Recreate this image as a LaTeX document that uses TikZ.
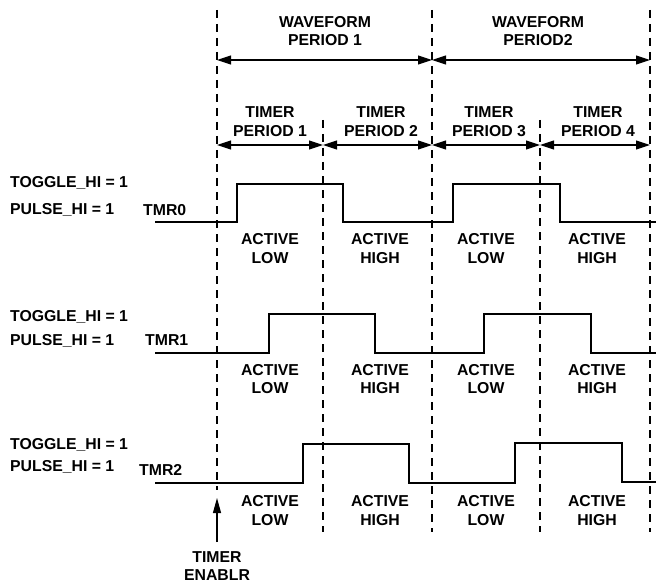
\documentclass[tikz,border=0pt]{standalone}
\usepackage{fontspec}
\setmainfont{Liberation Sans}
\usetikzlibrary{arrows.meta,positioning}

\begin{document}
\begin{tikzpicture}[
    x=1pt, y=-1pt,
    lbl/.style={font=\fontsize{15.8}{18.5}\selectfont\bfseries, align=center, inner sep=0pt},
    sig/.style={line width=1.2pt, line join=miter},
    bound/.style={line width=1.2pt, dash pattern=on 8pt off 6pt},
    span/.style={{Triangle[length=14pt,width=9pt]}-{Triangle[length=14pt,width=9pt]}, line width=1.1pt},
    enarrow/.style={-{Triangle[length=15pt,width=8pt]}, line width=1.1pt}
]
\useasboundingbox (0,0) rectangle (656,583);

% period boundaries
\coordinate (g0t) at (217,10);  \coordinate (g0b) at (217,490);
\coordinate (g1t) at (323,120); \coordinate (g1b) at (323,532);
\coordinate (g2t) at (432,10);  \coordinate (g2b) at (432,532);
\coordinate (g3t) at (540,120); \coordinate (g3b) at (540,532);
\coordinate (g4t) at (650,10);  \coordinate (g4b) at (650,532);
\draw[bound] (g0t) -- (g0b);
\draw[bound] (g1t) -- (g1b);
\draw[bound] (g2t) -- (g2b);
\draw[bound] (g3t) -- (g3b);
\draw[bound] (g4t) -- (g4b);

% waveform periods
\node[lbl] (wave1) at (325,31) {WAVEFORM\\PERIOD 1};
\node[lbl] (wave2) at (538,31) {WAVEFORM\\PERIOD2};
\coordinate (wa0) at (217,60);
\coordinate (wa1) at (432,60);
\coordinate (wa2) at (650,60);
\draw[span] (wa0) -- (wa1);
\draw[span] (wa1) -- (wa2);

% timer periods
\node[lbl] (tp1) at (270,121.5) {TIMER\\PERIOD 1};
\node[lbl] (tp2) at (381,121.5) {TIMER\\PERIOD 2};
\node[lbl] (tp3) at (489,121.5) {TIMER\\PERIOD 3};
\node[lbl] (tp4) at (598,121.5) {TIMER\\PERIOD 4};
\coordinate (ta0) at (217,145);
\coordinate (ta1) at (323,145);
\coordinate (ta2) at (432,145);
\coordinate (ta3) at (540,145);
\coordinate (ta4) at (650,145);
\draw[span] (ta0) -- (ta1);
\draw[span] (ta1) -- (ta2);
\draw[span] (ta2) -- (ta3);
\draw[span] (ta3) -- (ta4);

% TMR0
\node[lbl, anchor=west] (tog0) at (10,183) {TOGGLE\_HI = 1};
\node[lbl, anchor=west] (pul0) at (10,210) {PULSE\_HI = 1};
\node[lbl, anchor=west] (tmr0) at (143,210) {TMR0};
\draw[sig] (155,222) -- (237,222) -- (237,184) -- (343,184) -- (343,222)
    -- (453,222) -- (453,184) -- (560,184) -- (560,222) -- (656,222);
\node[lbl] (a01) at (270,248.5) {ACTIVE\\LOW};
\node[lbl] (a02) at (380,248.5) {ACTIVE\\HIGH};
\node[lbl] (a03) at (486,248.5) {ACTIVE\\LOW};
\node[lbl] (a04) at (597,248.5) {ACTIVE\\HIGH};

% TMR1
\node[lbl, anchor=west] (tog1) at (10,317) {TOGGLE\_HI = 1};
\node[lbl, anchor=west] (pul1) at (10,341) {PULSE\_HI = 1};
\node[lbl, anchor=west] (tmr1) at (145,340) {TMR1};
\draw[sig] (155,353) -- (269,353) -- (269,314) -- (375,314) -- (375,353)
    -- (484,353) -- (484,314) -- (591,314) -- (591,353) -- (656,353);
\node[lbl] (a11) at (270,379) {ACTIVE\\LOW};
\node[lbl] (a12) at (380,379) {ACTIVE\\HIGH};
\node[lbl] (a13) at (486,379) {ACTIVE\\LOW};
\node[lbl] (a14) at (597,379) {ACTIVE\\HIGH};

% TMR2
\node[lbl, anchor=west] (tog2) at (10,445) {TOGGLE\_HI = 1};
\node[lbl, anchor=west] (pul2) at (10,467) {PULSE\_HI = 1};
\node[lbl, anchor=west] (tmr2) at (139,470) {TMR2};
\draw[sig] (155,483) -- (303,483) -- (303,444) -- (409,444) -- (409,483)
    -- (515,483) -- (515,443) -- (622,443) -- (622,482) -- (656,482);
\node[lbl] (a21) at (270,510.5) {ACTIVE\\LOW};
\node[lbl] (a22) at (380,510.5) {ACTIVE\\HIGH};
\node[lbl] (a23) at (486,510.5) {ACTIVE\\LOW};
\node[lbl] (a24) at (597,510.5) {ACTIVE\\HIGH};

% enable
\node[lbl] (enable) at (217,566) {TIMER\\ENABLR};
\coordinate (enbase) at (217,542);
\coordinate (entip) at (217,498);
\draw[enarrow] (enbase) -- (entip);
\end{tikzpicture}
\end{document}
